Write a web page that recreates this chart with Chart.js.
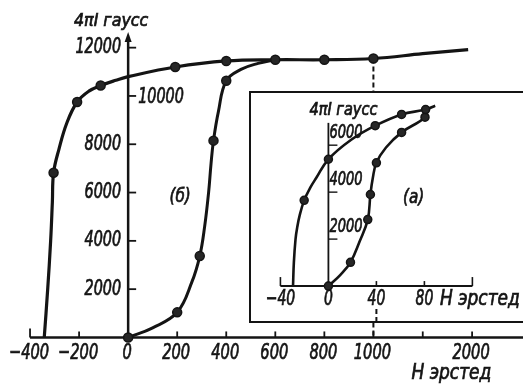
<!DOCTYPE html>
<html>
<head>
<meta charset="utf-8">
<script src="https://cdn.jsdelivr.net/npm/chart.js@4/dist/chart.umd.min.js"></script>
<style>
  html, body { margin: 0; padding: 0; background: #fff; overflow: hidden; }
  #wrap { position: relative; width: 523px; height: 389px; }
  #main { position: absolute; left: 0; top: 0; }
  #inset { position: absolute; left: 249px; top: 91px; }
</style>
</head>
<body>
<div id="wrap">
  <canvas id="main" width="523" height="389"></canvas>
  <canvas id="inset" width="274" height="232"></canvas>
</div>
<script>
// ---- Main figure (б): hysteresis branch and initial magnetization curve ----
// field H, oersted; magnetization 4πI, gauss
const mainDescH = [-342, -328, -316, -309, -304, -282, -250, -208, -160, -112, -50, 0, 192, 400, 600, 800, 1000, 1500, 1960];
const mainDescB = [0, 2000, 4000, 5600, 6820, 7800, 8880, 9750, 10200, 10430, 10650, 10800, 11200, 11450, 11500, 11500, 11550, 11750, 11920];
const mainDescMeasuredH = [-304, -208, -112, 192, 400, 600, 800, 1000];

const mainInitH = [0, 100, 200, 260, 292, 312, 328, 338, 348, 368, 400, 460, 530, 600];
const mainInitB = [0, 400, 1040, 2300, 3370, 4600, 6000, 7200, 8150, 9350, 10630, 11100, 11350, 11500];
const mainInitMeasuredH = [0, 200, 292, 348, 400];

const mainXTicks = [-400, -200, 0, 200, 400, 600, 800, 1000, 1500, 2000];
const mainXLabels = ['−400', '−200', '0', '200', '400', '600', '800', '1000', '', '2000'];
const mainYTicks = [2000, 4000, 6000, 8000, 10000, 12000];
const mainYLabels = ['2000', '4000', '6000', '8000', '10000', '12000'];
const markerH = 1000;

// ---- Inset (а): small loop ----
const insetUpperH = [-29.5, -28.8, -27.4, -26, -24, -20.2, -15, -10.2, 0, 19, 39, 61, 81, 89];
const insetUpperB = [0, 1000, 2000, 2500, 3000, 3650, 4200, 4600, 5400, 6230, 6830, 7310, 7515, 7680];
const insetUpperMeasuredH = [-20.2, 0, 39, 61, 81];

const insetLowerH = [0, 10, 18.4, 26, 32.8, 35, 37, 40, 48, 61, 80.5, 81];
const insetLowerB = [0, 480, 1010, 1900, 2830, 3900, 4600, 5250, 5900, 6545, 7190, 7515];
const insetLowerMeasuredH = [0, 18.4, 32.8, 35, 40, 61, 80.5];

const insetXTicks = [-40, 0, 40, 80, 120];
const insetXLabels = ['−40', '0', '40', '80', ''];
const insetYTicks = [2000, 4000, 6000];
const insetYLabels = ['2000', '4000', '6000'];

const yTitle = '4πI гаусс';
const xTitle = 'Н эрстед';

// Field axis: linear up to 1000 Oe, compressed beyond.
const BREAK_AT = 1000;
const COMPRESS = 101 / 251;
class BrokenLinearScale extends Chart.LinearScale {
  _t(v) { return v <= BREAK_AT ? v : BREAK_AT + (v - BREAK_AT) * COMPRESS; }
  getPixelForValue(v) {
    const a = this._t(this.min), b = this._t(this.max);
    return this.getPixelForDecimal((this._t(v) - a) / (b - a));
  }
  getValueForPixel(p) {
    const a = this._t(this.min), b = this._t(this.max);
    const t = a + this.getDecimalForPixel(p) * (b - a);
    return t <= BREAK_AT ? t : BREAK_AT + (t - BREAK_AT) / COMPRESS;
  }
}
BrokenLinearScale.id = 'brokenLinear';
BrokenLinearScale.defaults = Chart.LinearScale.defaults;
Chart.register(BrokenLinearScale);

const INK = '#141414';
const FAM = "'DejaVu Sans Condensed', 'DejaVu Sans', sans-serif";

function pts(hs, bs) { return hs.map((h, i) => ({ x: h, y: bs[i] })); }
function radii(hs, measured, r) { return hs.map(h => measured.includes(h) ? r : 0); }

function curve(hs, bs, measured, width, r) {
  return {
    data: pts(hs, bs),
    showLine: true,
    borderColor: INK,
    borderWidth: width,
    tension: 0.4,
    pointRadius: radii(hs, measured, r),
    pointBackgroundColor: '#262626',
    pointBorderColor: INK,
    pointBorderWidth: 1.5,
    clip: false
  };
}

// Italic lettering, squeezed horizontally to the tall narrow figure style,
// with a hairline outline for a medium stroke weight.
function label(ctx, s, x, y, align, size, squeeze) {
  ctx.save();
  ctx.font = 'italic ' + size + 'px ' + FAM;
  ctx.textAlign = align;
  ctx.textBaseline = 'middle';
  ctx.translate(x, y);
  ctx.scale(squeeze, 1);
  ctx.lineWidth = 0.7;
  ctx.strokeStyle = INK;
  ctx.fillText(s, 0, 0);
  ctx.strokeText(s, 0, 0);
  ctx.restore();
}

function arrowUp(ctx, x, y) {
  ctx.beginPath();
  ctx.moveTo(x, y);
  ctx.lineTo(x - 3.5, y + 10);
  ctx.lineTo(x + 3.5, y + 10);
  ctx.closePath();
  ctx.fill();
}

const mainAxes = {
  id: 'mainAxes',
  beforeDatasetsDraw(chart) {
    const { ctx } = chart;
    const xs = chart.scales.x, ys = chart.scales.y;
    const x0 = xs.getPixelForValue(0), y0 = ys.getPixelForValue(0);
    ctx.save();
    ctx.strokeStyle = INK; ctx.fillStyle = INK;

    // horizontal axis
    ctx.lineWidth = 2.5;
    ctx.beginPath();
    ctx.moveTo(xs.getPixelForValue(mainXTicks[0]), y0);
    ctx.lineTo(chart.width, y0);
    ctx.stroke();
    ctx.lineWidth = 1.8;
    mainXTicks.forEach((v, i) => {
      const px = xs.getPixelForValue(v);
      const len = i === 0 ? 9 : 6;
      ctx.beginPath(); ctx.moveTo(px, y0); ctx.lineTo(px, y0 - len); ctx.stroke();
    });
    mainXTicks.forEach((v, i) => {
      if (mainXLabels[i]) label(ctx, mainXLabels[i], xs.getPixelForValue(v) - 1, y0 + 16, 'center', 22, 0.74);
    });
    label(ctx, xTitle, xs.getPixelForValue(1790), y0 + 36, 'center', 21, 0.9);

    // vertical axis with arrow
    const yTop = ys.getPixelForValue(12650);
    ctx.lineWidth = 2.5;
    ctx.beginPath(); ctx.moveTo(x0, y0); ctx.lineTo(x0, yTop + 6); ctx.stroke();
    arrowUp(ctx, x0, yTop);
    ctx.lineWidth = 1.8;
    mainYTicks.forEach((v, i) => {
      const py = ys.getPixelForValue(v);
      ctx.beginPath(); ctx.moveTo(x0, py); ctx.lineTo(x0 + 8, py); ctx.stroke();
      if (v === 10000) label(ctx, mainYLabels[i], x0 + 10, py + 2, 'left', 21, 0.76);
      else label(ctx, mainYLabels[i], x0 - 7, py, 'right', 21, 0.76);
    });
    label(ctx, yTitle, x0 - 17, yTop - 11, 'center', 18, 0.98);

    // dashed marker at 1000 Oe
    ctx.lineWidth = 2;
    ctx.setLineDash([5, 3]);
    const xm = xs.getPixelForValue(markerH);
    ctx.beginPath(); ctx.moveTo(xm, ys.getPixelForValue(11550)); ctx.lineTo(xm, y0); ctx.stroke();
    ctx.setLineDash([]);

    // curve tag
    label(ctx, '(б)', xs.getPixelForValue(212), ys.getPixelForValue(5820), 'center', 20, 0.85);
    ctx.restore();
  }
};

new Chart(document.getElementById('main'), {
  type: 'scatter',
  data: {
    datasets: [
      curve(mainDescH, mainDescB, mainDescMeasuredH, 3.2, 4.5),
      curve(mainInitH, mainInitB, mainInitMeasuredH, 3, 4.5)
    ]
  },
  options: {
    responsive: false,
    animation: false,
    devicePixelRatio: 1,
    layout: { padding: 0 },
    plugins: { legend: { display: false }, tooltip: { enabled: false } },
    scales: {
      x: { type: 'brokenLinear', display: false, min: -498, max: 2455 },
      y: { type: 'linear', display: false, min: -1886, max: 13725 }
    }
  },
  plugins: [mainAxes]
});

const insetAxes = {
  id: 'insetAxes',
  beforeDraw(chart) {
    const { ctx, width, height } = chart;
    ctx.save();
    ctx.fillStyle = '#fff';
    ctx.fillRect(0, 0, width, height);
    ctx.restore();
  },
  beforeDatasetsDraw(chart) {
    const { ctx, width, height } = chart;
    const xs = chart.scales.x, ys = chart.scales.y;
    const x0 = xs.getPixelForValue(0), y0 = ys.getPixelForValue(0);
    ctx.save();
    ctx.strokeStyle = INK; ctx.fillStyle = INK;

    // frame (open to the right)
    ctx.lineWidth = 2;
    ctx.beginPath();
    ctx.moveTo(width, 1); ctx.lineTo(1, 1); ctx.lineTo(1, height - 1); ctx.lineTo(width, height - 1);
    ctx.stroke();

    // 1000 Oe marker continuing below the inset axis
    ctx.setLineDash([5, 3]);
    const xm = xs.getPixelForValue(40);
    ctx.beginPath(); ctx.moveTo(xm, y0 + 23); ctx.lineTo(xm, height); ctx.stroke();
    ctx.setLineDash([]);

    // horizontal axis
    ctx.lineWidth = 2;
    ctx.beginPath();
    ctx.moveTo(xs.getPixelForValue(insetXTicks[0]), y0);
    ctx.lineTo(xs.getPixelForValue(insetXTicks[insetXTicks.length - 1]), y0);
    ctx.stroke();
    ctx.lineWidth = 1.6;
    insetXTicks.forEach((v, i) => {
      const px = xs.getPixelForValue(v);
      const len = (i === 0 || i === insetXTicks.length - 1) ? 9 : 5;
      ctx.beginPath(); ctx.moveTo(px, y0); ctx.lineTo(px, y0 - len); ctx.stroke();
    });
    insetXTicks.forEach((v, i) => {
      if (insetXLabels[i]) label(ctx, insetXLabels[i], xs.getPixelForValue(v), y0 + 13, 'center', 21, 0.74);
    });
    label(ctx, xTitle, xs.getPixelForValue(93), y0 + 13, 'left', 21, 0.9);

    // vertical axis
    ctx.lineWidth = 1.8;
    ctx.beginPath(); ctx.moveTo(x0, y0); ctx.lineTo(x0, ys.getPixelForValue(6950)); ctx.stroke();
    ctx.lineWidth = 1.4;
    insetYTicks.forEach((v, i) => {
      const py = ys.getPixelForValue(v);
      ctx.beginPath(); ctx.moveTo(x0, py); ctx.lineTo(x0 + 9, py); ctx.stroke();
      label(ctx, insetYLabels[i], x0 + 1, py - 12, 'left', 19, 0.76);
    });
    label(ctx, yTitle, x0 + 15, ys.getPixelForValue(7480), 'center', 17, 0.95);

    label(ctx, '(а)', xs.getPixelForValue(71), ys.getPixelForValue(3760), 'center', 20, 0.85);
    ctx.restore();
  }
};

new Chart(document.getElementById('inset'), {
  type: 'scatter',
  data: {
    datasets: [
      curve(insetUpperH, insetUpperB, insetUpperMeasuredH, 2.6, 4),
      curve(insetLowerH, insetLowerB, insetLowerMeasuredH, 2.6, 4)
    ]
  },
  options: {
    responsive: false,
    animation: false,
    devicePixelRatio: 1,
    layout: { padding: 0 },
    plugins: { legend: { display: false }, tooltip: { enabled: false } },
    scales: {
      x: { type: 'linear', display: false, min: -61.6, max: 157.6 },
      y: { type: 'linear', display: false, min: -1339, max: 8073 }
    }
  },
  plugins: [insetAxes]
});
</script>
</body>
</html>
